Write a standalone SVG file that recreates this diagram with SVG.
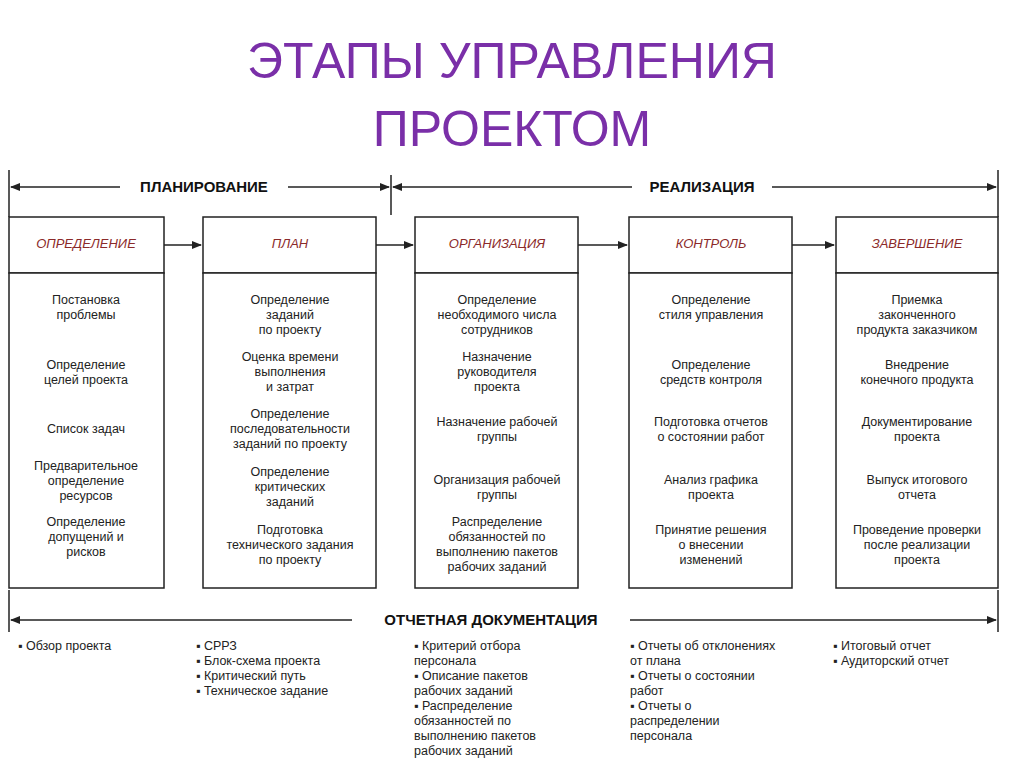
<svg xmlns="http://www.w3.org/2000/svg" width="1024" height="767" viewBox="0 0 1024 767">
<style>
.t{font-family:"Liberation Sans",Arial,sans-serif;fill:#7a2fa8;font-size:50px;text-anchor:middle}
.b{font-family:"Liberation Sans",Arial,sans-serif;font-size:12.5px;fill:#222;text-anchor:middle}
.l{font-family:"Liberation Sans",Arial,sans-serif;font-size:12.5px;fill:#222}
.h{font-family:"Liberation Sans",Arial,sans-serif;font-size:13px;font-style:italic;fill:#8b2a2a;text-anchor:middle}
.s{font-family:"Liberation Sans",Arial,sans-serif;font-size:15px;font-weight:bold;fill:#111;text-anchor:middle}
.box{fill:#fff;stroke:#222;stroke-width:1.5}
.ln{stroke:#222;stroke-width:1.5;fill:none}
</style>
<defs><marker id="a" markerWidth="10" markerHeight="8" refX="9" refY="4" orient="auto-start-reverse" markerUnits="userSpaceOnUse"><path d="M0,0L10,4L0,8z" fill="#222"/></marker></defs>
<rect width="1024" height="767" fill="#fff"/>
<text class="t" x="512" y="78">ЭТАПЫ УПРАВЛЕНИЯ</text>
<text class="t" x="512" y="146">ПРОЕКТОМ</text>
<g id="connectors">
<line class="ln" x1="9" y1="170" x2="9" y2="217"/>
<line class="ln" x1="391" y1="175" x2="391" y2="215"/>
<line class="ln" x1="998" y1="170" x2="998" y2="217"/>
<line class="ln" x1="11" y1="187" x2="120" y2="187" marker-start="url(#a)"/>
<line class="ln" x1="288" y1="187" x2="389" y2="187" marker-end="url(#a)"/>
<line class="ln" x1="393" y1="187" x2="632" y2="187" marker-start="url(#a)"/>
<line class="ln" x1="772" y1="187" x2="996" y2="187" marker-end="url(#a)"/>
<text class="s" x="204" y="192">ПЛАНИРОВАНИЕ</text>
<text class="s" x="702" y="192">РЕАЛИЗАЦИЯ</text>
<line class="ln" x1="164" y1="245" x2="201" y2="245" marker-end="url(#a)"/>
<line class="ln" x1="376" y1="245" x2="413" y2="245" marker-end="url(#a)"/>
<line class="ln" x1="578" y1="245" x2="627" y2="245" marker-end="url(#a)"/>
<line class="ln" x1="792" y1="245" x2="834" y2="245" marker-end="url(#a)"/>
<line class="ln" x1="9" y1="590" x2="9" y2="632"/>
<line class="ln" x1="998" y1="590" x2="998" y2="632"/>
<line class="ln" x1="11" y1="620" x2="352" y2="620" marker-start="url(#a)"/>
<line class="ln" x1="630" y1="620" x2="996" y2="620" marker-end="url(#a)"/>
<text class="s" x="491" y="625">ОТЧЕТНАЯ ДОКУМЕНТАЦИЯ</text>
</g>
<g id="n1"><rect class="box" x="9" y="217" width="155" height="56"/><rect class="box" x="9" y="273" width="155" height="315"/>
<text class="h" x="86" y="248">ОПРЕДЕЛЕНИЕ</text>
<text class="b"><tspan x="86" y="304">Постановка</tspan><tspan x="86" y="319">проблемы</tspan><tspan x="86" y="369">Определение</tspan><tspan x="86" y="384">целей проекта</tspan><tspan x="86" y="433">Список задач</tspan><tspan x="86" y="470">Предварительное</tspan><tspan x="86" y="485">определение</tspan><tspan x="86" y="500">ресурсов</tspan><tspan x="86" y="526">Определение</tspan><tspan x="86" y="541">допущений и</tspan><tspan x="86" y="556">рисков</tspan></text></g>
<g id="n2"><rect class="box" x="203" y="217" width="173" height="56"/><rect class="box" x="203" y="273" width="173" height="315"/>
<text class="h" x="290" y="248">ПЛАН</text>
<text class="b"><tspan x="290" y="304">Определение</tspan><tspan x="290" y="319">заданий</tspan><tspan x="290" y="334">по проекту</tspan><tspan x="290" y="361">Оценка времени</tspan><tspan x="290" y="376">выполнения</tspan><tspan x="290" y="391">и затрат</tspan><tspan x="290" y="418">Определение</tspan><tspan x="290" y="433">последовательности</tspan><tspan x="290" y="448">заданий по проекту</tspan><tspan x="290" y="476">Определение</tspan><tspan x="290" y="491">критических</tspan><tspan x="290" y="506">заданий</tspan><tspan x="290" y="534">Подготовка</tspan><tspan x="290" y="549">технического задания</tspan><tspan x="290" y="564">по проекту</tspan></text></g>
<g id="n3"><rect class="box" x="415" y="217" width="163" height="56"/><rect class="box" x="415" y="273" width="163" height="315"/>
<text class="h" x="497" y="248">ОРГАНИЗАЦИЯ</text>
<text class="b"><tspan x="497" y="304">Определение</tspan><tspan x="497" y="319">необходимого числа</tspan><tspan x="497" y="334">сотрудников</tspan><tspan x="497" y="361">Назначение</tspan><tspan x="497" y="376">руководителя</tspan><tspan x="497" y="391">проекта</tspan><tspan x="497" y="426">Назначение рабочей</tspan><tspan x="497" y="441">группы</tspan><tspan x="497" y="484">Организация рабочей</tspan><tspan x="497" y="499">группы</tspan><tspan x="497" y="526">Распределение</tspan><tspan x="497" y="541">обязанностей по</tspan><tspan x="497" y="556">выполнению пакетов</tspan><tspan x="497" y="571">рабочих заданий</tspan></text></g>
<g id="n4"><rect class="box" x="629" y="217" width="163" height="56"/><rect class="box" x="629" y="273" width="163" height="315"/>
<text class="h" x="711" y="248">КОНТРОЛЬ</text>
<text class="b"><tspan x="711" y="304">Определение</tspan><tspan x="711" y="319">стиля управления</tspan><tspan x="711" y="369">Определение</tspan><tspan x="711" y="384">средств контроля</tspan><tspan x="711" y="426">Подготовка отчетов</tspan><tspan x="711" y="441">о состоянии работ</tspan><tspan x="711" y="484">Анализ графика</tspan><tspan x="711" y="499">проекта</tspan><tspan x="711" y="534">Принятие решения</tspan><tspan x="711" y="549">о внесении</tspan><tspan x="711" y="564">изменений</tspan></text></g>
<g id="n5"><rect class="box" x="836" y="217" width="162" height="56"/><rect class="box" x="836" y="273" width="162" height="315"/>
<text class="h" x="917" y="248">ЗАВЕРШЕНИЕ</text>
<text class="b"><tspan x="917" y="304">Приемка</tspan><tspan x="917" y="319">законченного</tspan><tspan x="917" y="334">продукта заказчиком</tspan><tspan x="917" y="369">Внедрение</tspan><tspan x="917" y="384">конечного продукта</tspan><tspan x="917" y="426">Документирование</tspan><tspan x="917" y="441">проекта</tspan><tspan x="917" y="484">Выпуск итогового</tspan><tspan x="917" y="499">отчета</tspan><tspan x="917" y="534">Проведение проверки</tspan><tspan x="917" y="549">после реализации</tspan><tspan x="917" y="564">проекта</tspan></text></g>
<g id="docs">
<text class="l"><tspan x="18" y="650">▪ Обзор проекта</tspan></text>
<text class="l"><tspan x="196" y="650">▪ СРРЗ</tspan><tspan x="196" y="665">▪ Блок-схема проекта</tspan><tspan x="196" y="680">▪ Критический путь</tspan><tspan x="196" y="695">▪ Техническое задание</tspan></text>
<text class="l"><tspan x="414" y="650">▪ Критерий отбора</tspan><tspan x="414" y="665">персонала</tspan><tspan x="414" y="680">▪ Описание пакетов</tspan><tspan x="414" y="695">рабочих заданий</tspan><tspan x="414" y="710">▪ Распределение</tspan><tspan x="414" y="725">обязанностей по</tspan><tspan x="414" y="740">выполнению пакетов</tspan><tspan x="414" y="755">рабочих заданий</tspan></text>
<text class="l"><tspan x="630" y="650">▪ Отчеты об отклонениях</tspan><tspan x="630" y="665">от плана</tspan><tspan x="630" y="680">▪ Отчеты о состоянии</tspan><tspan x="630" y="695">работ</tspan><tspan x="630" y="710">▪ Отчеты о</tspan><tspan x="630" y="725">распределении</tspan><tspan x="630" y="740">персонала</tspan></text>
<text class="l"><tspan x="833" y="650">▪ Итоговый отчет</tspan><tspan x="833" y="665">▪ Аудиторский отчет</tspan></text>
</g>
</svg>
